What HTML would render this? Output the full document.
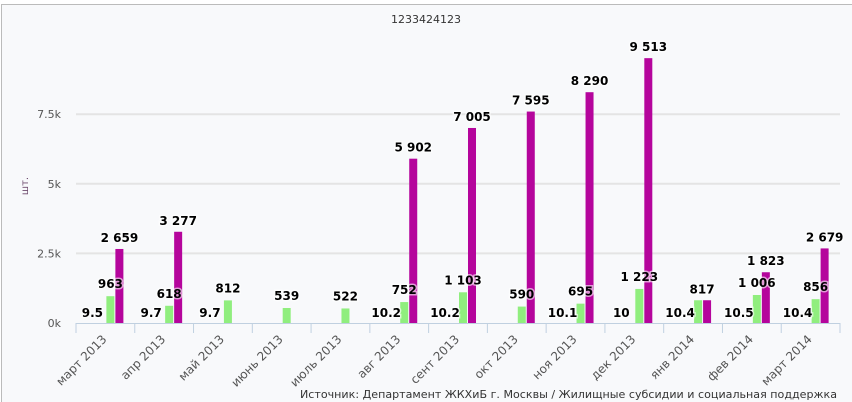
<!DOCTYPE html>
<html><head><meta charset="utf-8"><style>
body{margin:0;background:#fff;}
svg{display:block;font-family:"DejaVu Sans","Liberation Sans",sans-serif;}
</style></head><body>
<svg id="chart" width="852" height="402">
<rect x="1.5" y="4.5" width="860" height="400" fill="#f8f9fb" stroke="#bbb"/>
<text x="426" y="23" text-anchor="middle" font-size="11" fill="#333">1233424123</text>
<text transform="translate(28,186) rotate(-90)" text-anchor="middle" font-size="10" fill="#6d4a6d">шт.</text>
<text x="837" y="398" text-anchor="end" font-size="11" fill="#333" textLength="537" lengthAdjust="spacingAndGlyphs">Источник: Департамент ЖКХиБ г. Москвы / Жилищные субсидии и социальная поддержка</text>
<g id="grid"></g><g id="bars"></g><g id="labels"></g><g id="xaxis"></g>
</svg>
<script>
const categories=["март 2013","апр 2013","май 2013","июнь 2013","июль 2013","авг 2013","сент 2013","окт 2013","ноя 2013","дек 2013","янв 2014","фев 2014","март 2014"];
const seriesA=[9.5,9.7,9.7,null,null,10.2,10.2,null,10.1,10,10.4,10.5,10.4];
const seriesB=[963,618,812,539,522,752,1103,590,695,1223,817,1006,856];
const seriesC=[2659,3277,null,null,null,5902,7005,7595,8290,9513,817,1823,2679];
const yTicks=[0,2500,5000,7500];
const yTickLabels=["0k","2.5k","5k","7.5k"];
const NS="http://www.w3.org/2000/svg";
const L=76,R=840,Y0=323,PX=69.6/2500;
const bw=(R-L)/categories.length;
const y=v=>Y0-v*PX;
const xc=i=>L+bw*(i+0.5);
function mk(tag,attrs,parent,text){const e=document.createElementNS(NS,tag);for(const k in attrs)e.setAttribute(k,attrs[k]);if(text!=null)e.textContent=text;document.getElementById(parent).appendChild(e);return e;}
const fmt=v=>String(v).replace(/\B(?=(\d{3})+(?!\d))/g," ");
yTicks.forEach((t,i)=>{
 if(t>0){const g=mk('line',{x1:L,x2:R,y1:y(t),y2:y(t),stroke:'#e4e4e4','stroke-width':2},'grid');
 
 }
 const tl=mk('text',{x:61,y:y(t)+4,'text-anchor':'end','font-size':11,fill:'#555'},'grid',yTickLabels[i]);
 
 
});
const ax=mk('line',{x1:L,x2:R,y1:Y0+0.5,y2:Y0+0.5,stroke:'#c0d0e0','stroke-width':1},'xaxis');


function lab(x,yy,txt){
 const t=mk('text',{x:x,y:yy,'text-anchor':'middle','font-size':12,'font-weight':'bold',fill:'#000',stroke:'#fff','stroke-width':3,'stroke-opacity':0.6,'paint-order':'stroke'},'labels',txt);
 
 
}
categories.forEach((c,i)=>{
 const cx=xc(i);
 const tk=mk('line',{x1:L+bw*(i+1),x2:L+bw*(i+1),y1:Y0,y2:Y0+10,stroke:'#c0d0e0'},'xaxis');
 
 
 if(i===0){const t0=mk('line',{x1:L,x2:L,y1:Y0,y2:Y0+10,stroke:'#c0d0e0'},'xaxis');
 
 }
 const xl=mk('text',{transform:`translate(${cx+2},${Y0+17}) rotate(-45)`,'text-anchor':'end','font-size':12,fill:'#555'},'xaxis',c);
 
 
 if(seriesA[i]!=null){lab(cx-13,Y0-6,String(seriesA[i]));}
 if(seriesB[i]!=null){const b=mk('rect',{x:cx+1,y:y(seriesB[i]),width:8,height:Y0-y(seriesB[i]),fill:'#90ee7e'},'bars');
  
  
  if(seriesC[i]!==seriesB[i])lab(cx+5,y(seriesB[i])-8,fmt(seriesB[i]));}
 if(seriesC[i]!=null){const b=mk('rect',{x:cx+10,y:y(seriesC[i]),width:8,height:Y0-y(seriesC[i]),fill:'#b5059c'},'bars');
  
  
  lab(seriesC[i]===seriesB[i]?cx+9:cx+14,y(seriesC[i])-7,fmt(seriesC[i]));}
});
</script>
</body></html>
